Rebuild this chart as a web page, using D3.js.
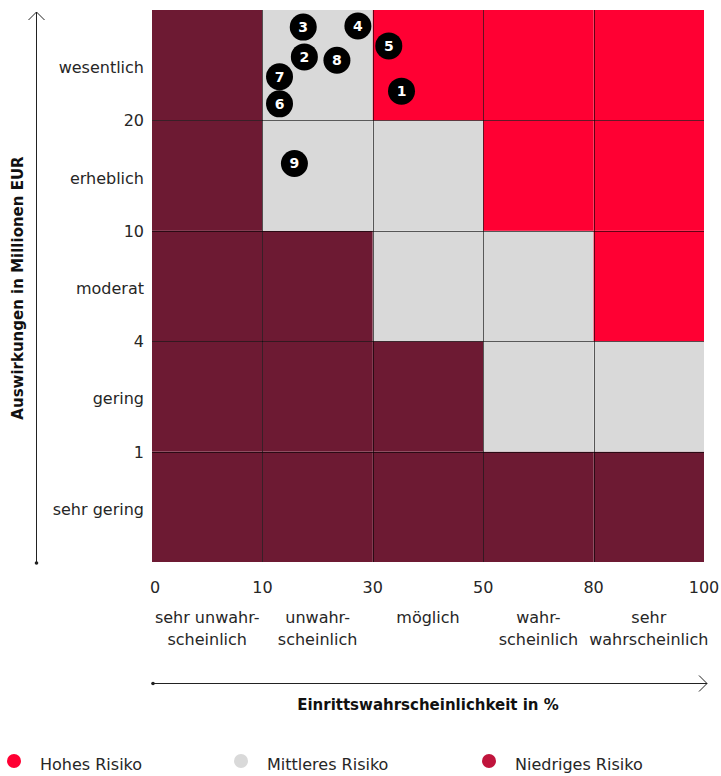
<!DOCTYPE html>
<html>
<head>
<meta charset="utf-8">
<script src="https://cdn.jsdelivr.net/npm/d3@7"></script>
<style>
  html, body { margin: 0; padding: 0; background: #fff; }
  svg { display: block; font-family: "DejaVu Sans", sans-serif; }
</style>
</head>
<body>
<div id="chart"></div>
<script>
// tick boundaries of the matrix
var xTicks = [0, 10, 30, 50, 80, 100];
var yTicks = [0, 1, 4, 10, 20, 40]; // 40 = nominal top of "wesentlich", not labelled
var yTickLabels = [null, "1", "4", "10", "20", null];

var xCategories = [["sehr unwahr-", "scheinlich"], ["unwahr-", "scheinlich"], ["möglich"], ["wahr-", "scheinlich"], ["sehr", "wahrscheinlich"]];
var yCategories = ["sehr gering", "gering", "moderat", "erheblich", "wesentlich"];

// risk level per cell, rows from bottom (sehr gering) to top (wesentlich)
var riskMatrix = [
	["low", "low", "low", "low", "low"],
	["low", "low", "low", "mid", "mid"],
	["low", "low", "mid", "mid", "high"],
	["low", "mid", "mid", "high", "high"],
	["low", "mid", "high", "high", "high"]
];

// numbered risks: probability (%) and impact (Mio EUR)
var riskIds     = [1, 2, 3, 4, 5, 6, 7, 8, 9];
var riskProb    = [35.2, 17.6, 17.4, 27.3, 32.9, 13.1, 13.1, 23.5, 15.8];
var riskImpact  = [25.3, 31.5, 36.9, 37.1, 33.5, 23.0, 27.9, 30.9, 16.1];

var legendLabels = ["Hohes Risiko", "Mittleres Risiko", "Niedriges Risiko"];

var cellColour = { high: "#ff0033", mid: "#d9d9d9", low: "#6d1a33" };
var legendColour = ["#ff0033", "#d9d9d9", "#c0143c"];

var width = 721, height = 776;
var plotLeft = 152, plotRight = 704, plotTop = 10, plotBottom = 562;
var fontSize = 16;
var textColour = "#262626";

var svg = d3.select("#chart").append("svg")
	.attr("width", width)
	.attr("height", height);

var x = d3.scaleLinear()
	.domain(xTicks)
	.range(xTicks.map(function(d, i){ return plotLeft + i * (plotRight - plotLeft) / (xTicks.length - 1); }));

var y = d3.scaleLinear()
	.domain(yTicks)
	.range(yTicks.map(function(d, i){ return plotBottom - i * (plotBottom - plotTop) / (yTicks.length - 1); }));

// cells
var cells = [];
riskMatrix.forEach(function(row, r){
	row.forEach(function(level, c){
		cells.push({ r: r, c: c, level: level });
	});
});

svg.append("g")
	.selectAll("rect")
	.data(cells)
	.enter()
	.append("rect")
	.attr("x", function(d){ return x(xTicks[d.c]); })
	.attr("y", function(d){ return y(yTicks[d.r + 1]); })
	.attr("width", function(d){ return x(xTicks[d.c + 1]) - x(xTicks[d.c]); })
	.attr("height", function(d){ return y(yTicks[d.r]) - y(yTicks[d.r + 1]); })
	.attr("fill", function(d){ return cellColour[d.level]; });

// grid lines
var grid = svg.append("g")
	.attr("stroke", "#000")
	.attr("stroke-opacity", 0.6)
	.attr("stroke-width", 1);

grid.selectAll("line.v")
	.data(xTicks.slice(1, -1))
	.enter()
	.append("line")
	.attr("x1", function(d){ return Math.round(x(d)) + 0.5; })
	.attr("x2", function(d){ return Math.round(x(d)) + 0.5; })
	.attr("y1", plotTop)
	.attr("y2", plotBottom);

grid.selectAll("line.h")
	.data(yTicks.slice(1, -1))
	.enter()
	.append("line")
	.attr("y1", function(d){ return Math.round(y(d)) + 0.5; })
	.attr("y2", function(d){ return Math.round(y(d)) + 0.5; })
	.attr("x1", plotLeft)
	.attr("x2", plotRight);

// x tick labels
svg.append("g")
	.selectAll("text")
	.data(xTicks)
	.enter()
	.append("text")
	.attr("x", function(d){ return x(d) + (d === 0 ? 3 : 0); })
	.attr("y", 593)
	.attr("text-anchor", "middle")
	.attr("font-size", fontSize)
	.attr("fill", textColour)
	.text(function(d){ return d; });

// x category labels
var xCat = svg.append("g")
	.selectAll("text")
	.data(xCategories)
	.enter()
	.append("text")
	.attr("text-anchor", "middle")
	.attr("font-size", fontSize)
	.attr("fill", textColour);

xCat.selectAll("tspan")
	.data(function(d, i){ return d.map(function(t){ return { t: t, i: i }; }); })
	.enter()
	.append("tspan")
	.attr("x", function(d){ return (x(xTicks[d.i]) + x(xTicks[d.i + 1])) / 2; })
	.attr("y", function(d, j){ return 623 + j * 22; })
	.text(function(d){ return d.t; });

// y tick labels
svg.append("g")
	.selectAll("text")
	.data(yTicks.filter(function(d, i){ return yTickLabels[i] !== null; }))
	.enter()
	.append("text")
	.attr("x", 144)
	.attr("y", function(d){ return y(d) + 6; })
	.attr("text-anchor", "end")
	.attr("font-size", fontSize)
	.attr("fill", textColour)
	.text(function(d){ return yTickLabels[yTicks.indexOf(d)]; });

// y category labels
svg.append("g")
	.selectAll("text")
	.data(yCategories)
	.enter()
	.append("text")
	.attr("x", 144)
	.attr("y", function(d, i){ return (y(yTicks[i]) + y(yTicks[i + 1])) / 2 + 8; })
	.attr("text-anchor", "end")
	.attr("font-size", fontSize)
	.attr("fill", textColour)
	.text(function(d){ return d; });

// axis arrows
var arrows = svg.append("g")
	.attr("stroke", "#222")
	.attr("fill", "none")
	.attr("stroke-width", 1);

arrows.append("line").attr("x1", 36.5).attr("x2", 36.5).attr("y1", 12).attr("y2", 563);
arrows.append("path").attr("d", "M28.5,20 L36.5,12 L44.5,20");
svg.append("circle").attr("cx", 36.5).attr("cy", 563).attr("r", 1.8).attr("fill", "#222");

arrows.append("line").attr("x1", 153).attr("x2", 707).attr("y1", 683.5).attr("y2", 683.5);
arrows.append("path").attr("d", "M699,675.5 L707,683.5 L699,691.5");
svg.append("circle").attr("cx", 153).attr("cy", 683.5).attr("r", 1.8).attr("fill", "#222");

// axis titles
svg.append("text")
	.attr("transform", "translate(23," + ((plotTop + plotBottom) / 2 + 2) + ") rotate(-90)")
	.attr("text-anchor", "middle")
	.attr("font-size", 15)
	.attr("font-weight", "bold")
	.attr("fill", "#111")
	.text("Auswirkungen in Millionen EUR");

svg.append("text")
	.attr("x", (plotLeft + plotRight) / 2)
	.attr("y", 710)
	.attr("text-anchor", "middle")
	.attr("font-size", 15)
	.attr("font-weight", "bold")
	.attr("fill", "#111")
	.text("Einrittswahrscheinlichkeit in %");

// risk markers
var markers = svg.append("g")
	.selectAll("g")
	.data(riskIds)
	.enter()
	.append("g")
	.attr("transform", function(d, i){ return "translate(" + x(riskProb[i]) + "," + y(riskImpact[i]) + ")"; });

markers.append("circle")
	.attr("r", 13.5)
	.attr("fill", "#000");

markers.append("text")
	.attr("text-anchor", "middle")
	.attr("y", 5)
	.attr("font-size", 14)
	.attr("font-weight", "bold")
	.attr("fill", "#fff")
	.text(function(d){ return d; });

// legend
var legendX = [14, 241, 489];
var legend = svg.append("g")
	.selectAll("g")
	.data(legendLabels)
	.enter()
	.append("g")
	.attr("transform", function(d, i){ return "translate(" + legendX[i] + ",761)"; });

legend.append("circle")
	.attr("r", 7)
	.attr("fill", function(d, i){ return legendColour[i]; });

legend.append("text")
	.attr("x", 26)
	.attr("y", 9)
	.attr("font-size", fontSize)
	.attr("fill", textColour)
	.text(function(d){ return d; });
</script>
</body>
</html>
